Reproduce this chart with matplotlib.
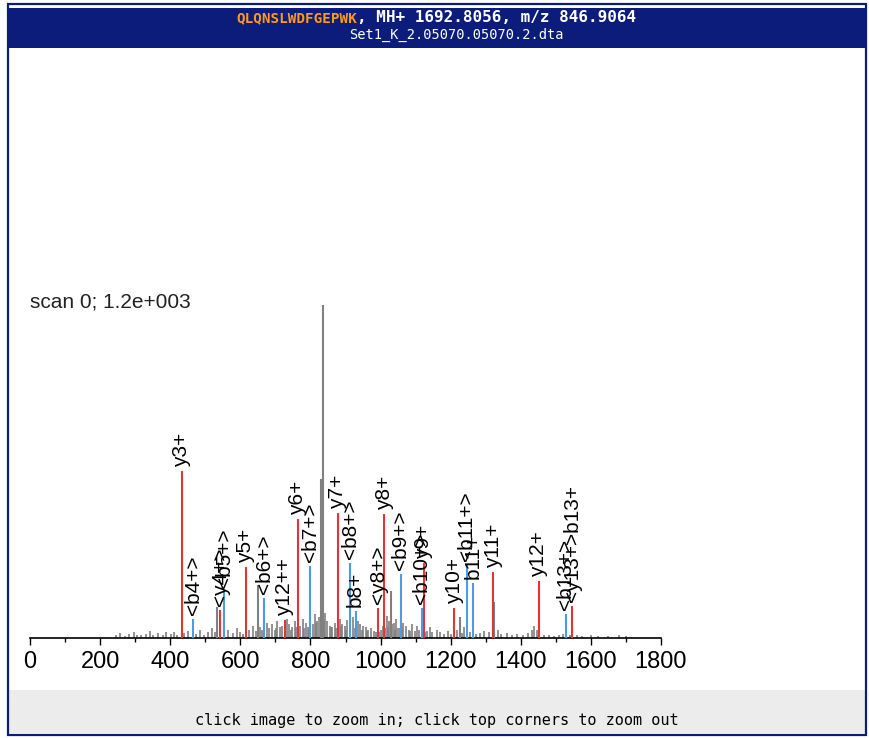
import matplotlib
matplotlib.use("Agg")
import matplotlib.pyplot as plt
from matplotlib.patches import Rectangle

# ---------------- data ----------------
title_seq = "QLQNSLWDFGEPWK"
title_rest = ", MH+ 1692.8056, m/z 846.9064"
title_file = "Set1_K_2.05070.05070.2.dta"
scan_text = "scan 0; 1.2e+003"
footer_text = "click image to zoom in; click top corners to zoom out"

x_ticks_major = [0, 200, 400, 600, 800, 1000, 1200, 1400, 1600, 1800]
x_ticks_minor = [100, 300, 500, 700, 900, 1100, 1300, 1500, 1700]

# annotated / main peaks
peak_mz = [432.7, 466, 534, 542, 554, 650, 616, 668, 727, 763.6, 799, 829, 836.7,
           877.7, 913, 929, 993.6, 1010, 1031, 1057, 1117, 1123, 1210, 1226,
           1246, 1265, 1321.6, 1324, 1451, 1528, 1547]
peak_int = [602, 68, 112, 101, 166, 191, 256, 144, 65, 429, 259, 573, 1200,
            450, 270, 97, 108, 447, 169, 231, 108, 270, 108, 76,
            263, 198, 238, 130, 205, 86, 115]
peak_type = ["y", "b", "-", "y", "b", "-", "y", "b", "y", "y", "b", "-", "-",
             "y", "b", "b", "y", "y", "-", "b", "b", "y", "y", "-",
             "b", "b", "y", "-", "y", "b", "y"]
peak_label = ["y3+", "<b4+>", "", "<y4+>", "<b5+>", "", "y5+", "<b6+>", "y12++", "y6+", "<b7+>", "", "",
              "y7+", "<b8+>", "b8+", "<y8+>", "y8+", "", "<b9+>", "<b10+>", "y9+", "y10+", "",
              "<b11+>", "b11+", "y11+", "", "y12+", "<b13+>", "<y13+>b13+"]

# unassigned noise peaks
noise_mz = [245, 258, 270, 283, 297, 305, 318, 330, 341, 352, 366, 378, 389, 401, 412, 420,
            440, 452, 474, 486, 497, 508, 519, 527, 565, 578, 590, 600, 608, 625, 636, 645,
            655, 662, 675, 683, 690, 698, 705, 712, 720, 734, 740, 748, 755, 770, 778, 786,
            792, 806, 812, 818, 824, 842, 848, 855, 862, 869, 884, 891, 898, 905, 920, 935,
            942, 950, 958, 965, 972, 980, 988, 1000, 1018, 1025, 1038, 1045, 1050, 1065,
            1072, 1080, 1090, 1098, 1105, 1132, 1140, 1148, 1160, 1170, 1180, 1192, 1200,
            1218, 1232, 1238, 1255, 1272, 1285, 1295, 1310, 1335, 1345, 1360, 1375, 1390,
            1405, 1420, 1432, 1438, 1445, 1465, 1480, 1495, 1510, 1520, 1540, 1560, 1575,
            1600, 1620, 1648, 1680, 1700,
            702, 727, 745, 760, 782, 797, 815, 833, 839, 858, 873, 888, 902, 912, 926, 946,
            962, 996, 1006, 1013, 1022, 1034, 1042, 1055, 1061, 1085, 1110, 1128]
noise_int = [10, 18, 8, 14, 22, 12, 10, 16, 25, 12, 18, 10, 20, 14, 22, 12,
             18, 25, 14, 30, 12, 22, 35, 20, 28, 18, 35, 22, 15, 30, 45, 25,
             40, 30, 55, 35, 50, 28, 60, 40, 45, 70, 50, 38, 60, 45, 70, 55,
             40, 50, 85, 60, 75, 90, 60, 45, 38, 55, 70, 50, 45, 65, 75, 60,
             50, 45, 40, 30, 35, 25, 20, 30, 80, 60, 55, 70, 35, 55,
             45, 30, 50, 25, 45, 25, 40, 20, 30, 20, 15, 25, 15,
             30, 18, 40, 22, 15, 18, 25, 20, 30, 15, 18, 10, 14,
             10, 18, 30, 45, 28, 10, 12, 8, 12, 15, 12, 10, 8,
             10, 6, 8, 10, 6,
             35, 50, 30, 40, 35, 30, 55, 70, 65, 40, 35, 45, 30, 40, 35, 30,
             25, 22, 45, 35, 40, 50, 30, 35, 40, 25, 30, 20]

# ---------------- style ----------------
W, H = 869, 738
DPI = 100
col = {"y": "#e63434", "b": "#4b9be8", "-": "#808080"}
navy = "#0b1c7a"

sans = ["Liberation Sans", "DejaVu Sans"]
mono = ["DejaVu Sans Mono"]

fig = plt.figure(figsize=(W / DPI, H / DPI), dpi=DPI, facecolor="white")

def fx(px):
    return px / W

def fy(py):
    return 1 - py / H

# frame and header/footer
fig.patches.append(Rectangle((fx(9), fy(733)), fx(857), (733 - 690) / H, transform=fig.transFigure,
                             facecolor="#ececec", edgecolor="none", zorder=0))
fig.patches.append(Rectangle((fx(9), fy(48)), fx(857), (48 - 8) / H, transform=fig.transFigure,
                             facecolor=navy, edgecolor="none", zorder=1))
fig.patches.append(Rectangle((fx(8), fy(735)), fx(858), (735 - 4) / H, transform=fig.transFigure,
                             facecolor="none", edgecolor=navy, linewidth=1.6, zorder=2))

fig.text(fx(357), fy(18), title_seq, color="#ff9a1a", fontsize=10.3, fontweight="bold",
         family=mono, ha="right", va="center")
fig.text(fx(357), fy(18), title_rest, color="white", fontsize=11.5, fontweight="bold",
         family=mono, ha="left", va="center")
fig.text(fx(456), fy(35), title_file, color="white", fontsize=9.8,
         family=mono, ha="center", va="center")
fig.text(fx(437), fy(720), footer_text, color="black", fontsize=11,
         family=mono, ha="center", va="center")
fig.text(fx(30), fy(307), scan_text, color="#222222", fontsize=15,
         family=sans, ha="left", va="baseline")

# spectrum axes
ax = fig.add_axes([fx(30), fy(638), fx(631), (638 - 305) / H])
ax.set_xlim(0, 1800)
ax.set_ylim(0, 1200)
ax.patch.set_alpha(0)
for s in ["top", "right", "left"]:
    ax.spines[s].set_visible(False)
ax.spines["bottom"].set_linewidth(1.2)
ax.set_yticks([])
ax.set_xticks(x_ticks_major)
ax.set_xticks(x_ticks_minor, minor=True)
ax.tick_params(axis="x", which="major", length=5, width=1.0, direction="out", pad=4)
ax.tick_params(axis="x", which="minor", length=3, width=1.0, direction="out")
for lab in ax.get_xticklabels():
    lab.set_family(sans)
    lab.set_fontsize(17)

ax.vlines(noise_mz, 0, noise_int, colors=col["-"], linewidth=1.2, zorder=2)
for t in ["-", "b", "y"]:
    xs = [m for m, tt in zip(peak_mz, peak_type) if tt == t]
    ys = [v for v, tt in zip(peak_int, peak_type) if tt == t]
    ax.vlines(xs, 0, ys, colors=col[t], linewidth=1.5, zorder=3)

for m, v, lab in zip(peak_mz, peak_int, peak_label):
    if lab:
        ax.annotate(lab, xy=(m, v), xytext=(0, 3), textcoords="offset points",
                    rotation=90, ha="center", va="bottom", fontsize=15,
                    family=sans, color="black", annotation_clip=False)

fig.savefig("out.png", dpi=DPI, facecolor="white")
